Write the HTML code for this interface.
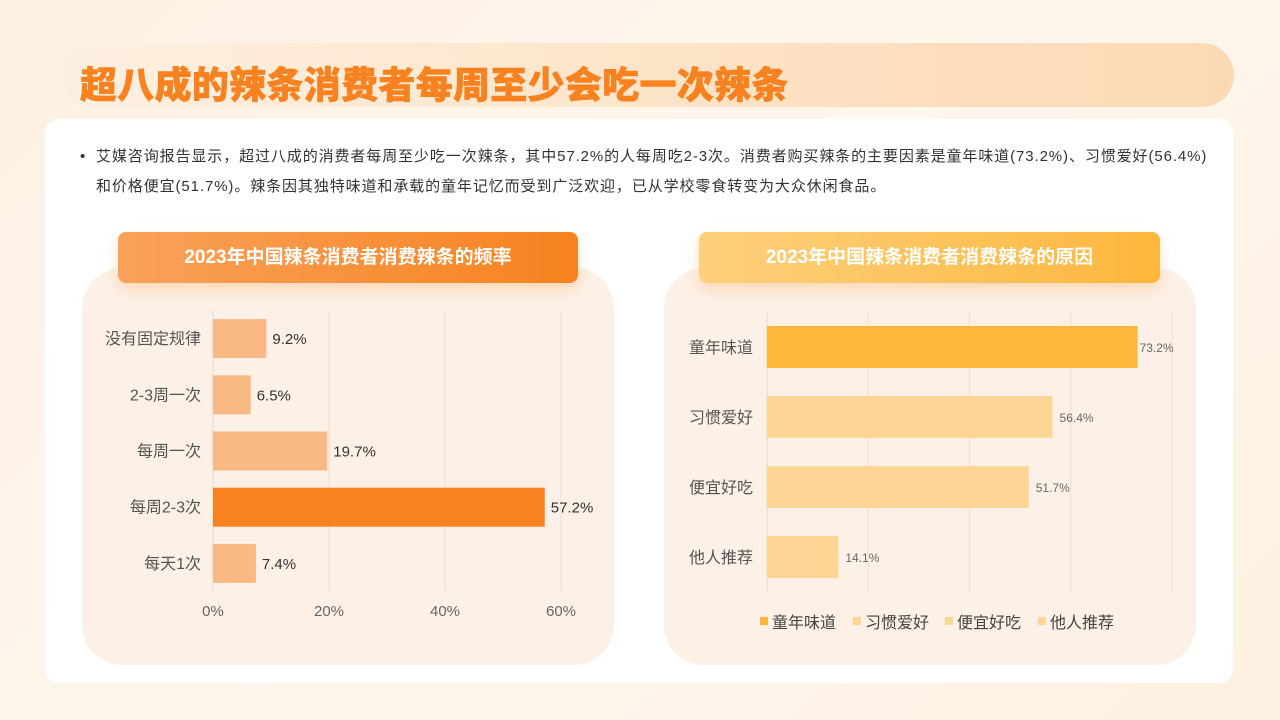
<!DOCTYPE html>
<html><head><meta charset="utf-8"><style>
*{margin:0;padding:0;box-sizing:border-box}
body{width:1280px;height:720px;overflow:hidden;background:linear-gradient(135deg,#fdf0e2,#fef7ee 50%,#fdf0e0);font-family:"Liberation Sans","Noto Sans CJK SC",sans-serif;position:relative}
.abs{position:absolute}
#hdr{left:58px;top:43px;width:1176px;height:64px;border-radius:32px;background:linear-gradient(90deg,rgba(253,236,218,0.3),#fde3c6 55%,#fcd9b5);}
#title{left:80px;top:55px;font-size:37px;font-weight:900;color:#f7821f;letter-spacing:0.3px;white-space:nowrap;-webkit-text-stroke:0.6px #f7821f}
#card{left:45px;top:119px;width:1188px;height:564px;border-radius:14px;background:#fff}
#txt{left:80px;top:142px;width:1135px;font-size:15px;line-height:30px;color:#333;padding-left:16px;letter-spacing:0.9px}
#txt:before{content:"•";position:absolute;left:0;top:0}
.panel{top:268px;width:532px;height:397px;border-radius:40px;background:#fdf0e6}
.pill{top:232px;height:51px;border-radius:8px;color:#fff;font-size:19px;font-weight:bold;text-align:center;line-height:51px;box-shadow:0 6px 14px rgba(250,170,90,0.35)}
svg{position:absolute;left:0;top:0}
</style></head><body>
<div class="abs" id="hdr"></div>
<div class="abs" id="title">超八成的辣条消费者每周至少会吃一次辣条</div>
<div class="abs" id="card"></div>
<div class="abs" id="txt">艾媒咨询报告显示，超过八成的消费者每周至少吃一次辣条，其中57.2%的人每周吃2-3次。消费者购买辣条的主要因素是童年味道(73.2%)、习惯爱好(56.4%)<br>和价格便宜(51.7%)。辣条因其独特味道和承载的童年记忆而受到广泛欢迎，已从学校零食转变为大众休闲食品。</div>
<div class="abs panel" style="left:82px"></div>
<div class="abs panel" style="left:664px"></div>
<div class="abs pill" style="left:118px;width:460px;background:linear-gradient(90deg,#f9a25a,#f7821f)">2023年中国辣条消费者消费辣条的频率</div>
<div class="abs pill" style="left:699px;width:461px;background:linear-gradient(90deg,#fdd07d,#fdb73d)">2023年中国辣条消费者消费辣条的原因</div>
<svg id="chart" width="1280" height="720"></svg>
<script>
const freqCats=["没有固定规律","2-3周一次","每周一次","每周2-3次","每天1次"];
const freqVals=[9.2,6.5,19.7,57.2,7.4];
const freqTicks=[0,20,40,60];
const reasonCats=["童年味道","习惯爱好","便宜好吃","他人推荐"];
const reasonVals=[73.2,56.4,51.7,14.1];
const reasonTicks=[0,20,40,60,80];
const NS="http://www.w3.org/2000/svg";
const svg=document.getElementById('chart');
function mk(t,a,txt){const e=document.createElementNS(NS,t);for(const k in a)e.setAttribute(k,a[k]);if(txt!==undefined)e.textContent=txt;svg.appendChild(e);return e;}
(function(){
 const x0=213,x1=561,max=60,top=310,bot=591;
 const xs=v=>x0+(x1-x0)*v/max;
 const band=(bot-top)/freqCats.length;
 freqTicks.forEach(t=>{
  if(t>0){const g=mk('line',{x1:xs(t),x2:xs(t),y1:top,y2:bot,stroke:'#f5dcc8','stroke-width':1});
  }
  const l=mk('text',{x:xs(t),y:616,'text-anchor':'middle','font-size':15,fill:'#666'},t+'%');
  
 });
 const ax=mk('line',{x1:x0,x2:x0,y1:top,y2:bot,stroke:'#dcdcdc'});
 
 freqCats.forEach((c,i)=>{
  const cy=top+band*(i+0.5);
  const r=mk('rect',{x:x0,y:cy-19,width:xs(freqVals[i])-x0,height:39,fill:freqVals[i]===Math.max(...freqVals)?'#f7821f':'#f9b985'});
  
  const l=mk('text',{x:201,y:cy+6,'text-anchor':'end','font-size':16,fill:'#555'},c);
  
  const v=mk('text',{x:xs(freqVals[i])+6,y:cy+6,'font-size':15,fill:'#333'},freqVals[i]+'%');
  
 });
})();
(function(){
 const x0=767,x1=1172,max=80,top=312,bot=592;
 const xs=v=>x0+(x1-x0)*v/max;
 const band=(bot-top)/reasonCats.length;
 const colors=['#fdb73d','#fdd594','#fdd594','#fdd594'];
 reasonTicks.forEach(t=>{if(t>0){const g=mk('line',{x1:xs(t),x2:xs(t),y1:top,y2:bot,stroke:'#f5dcc8'});
  }});
 const ax=mk('line',{x1:x0,x2:x0,y1:top,y2:bot,stroke:'#dcdcdc'});
 
 reasonCats.forEach((c,i)=>{
  const cy=top+band*(i+0.5);
  const r=mk('rect',{x:x0,y:cy-21,width:xs(reasonVals[i])-x0,height:42,fill:colors[i]});
  
  const l=mk('text',{x:753,y:cy+6,'text-anchor':'end','font-size':16,fill:'#555'},c);
  
  const v=mk('text',{x:xs(reasonVals[i])+(i===0?2:7),y:cy+5,'font-size':12,fill:'#666'},reasonVals[i]+'%');
  
 });
 const lx=[760,853,945,1038];
 reasonCats.forEach((c,i)=>{
  const s=mk('rect',{x:lx[i],y:617,width:8,height:8,fill:colors[i]});
  
  const t=mk('text',{x:lx[i]+12,y:628,'font-size':16,fill:'#444'},c);
  
 });
})();
</script>
</body></html>
